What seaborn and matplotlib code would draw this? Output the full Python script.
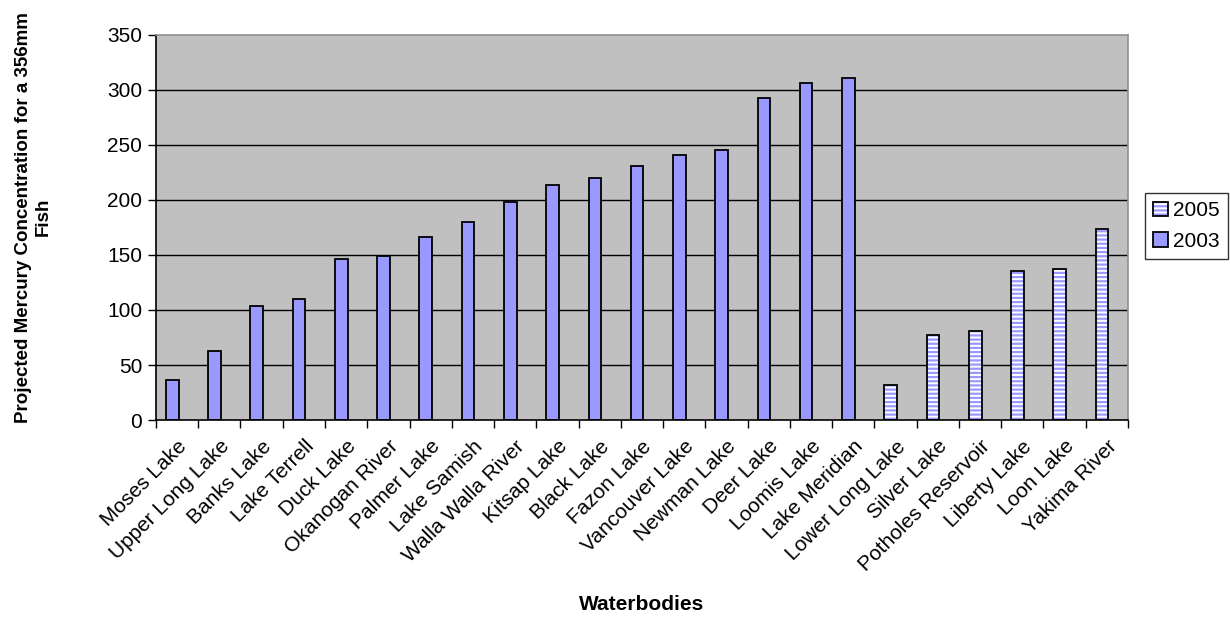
import numpy as np
import pandas as pd
import matplotlib
matplotlib.use("Agg")
import matplotlib.pyplot as plt
from matplotlib.legend_handler import HandlerTuple
import seaborn as sns

# Waterbodies sampled in 2003 and 2005
names_2003 = ["Moses Lake", "Upper Long Lake", "Banks Lake", "Lake Terrell", "Duck Lake",
              "Okanogan River", "Palmer Lake", "Lake Samish", "Walla Walla River",
              "Kitsap Lake", "Black Lake", "Fazon Lake", "Vancouver Lake", "Newman Lake",
              "Deer Lake", "Loomis Lake", "Lake Meridian"]
vals_2003 = [36, 63, 104, 110, 146, 149, 166, 180, 198, 214, 220, 231, 241, 245, 293, 306, 311]

names_2005 = ["Lower Long Lake", "Silver Lake", "Potholes Reservoir", "Liberty Lake",
              "Loon Lake", "Yakima River"]
vals_2005 = [32, 77, 81, 135, 137, 174]

year_levels = ["2005", "2003"]
y_ticks = [0, 50, 100, 150, 200, 250, 300, 350]

df = pd.DataFrame({
    "Waterbody": names_2003 + names_2005,
    "Value": vals_2003 + vals_2005,
    "Year": ["2003"] * len(names_2003) + ["2005"] * len(names_2005),
})
order = names_2003 + names_2005
df_2005 = df[df["Year"] == "2005"]

sns.set_theme(style="white")
plt.rcParams["font.family"] = ["Liberation Sans", "DejaVu Sans"]
plt.rcParams["hatch.linewidth"] = 1.6
for key in ["text.color", "axes.labelcolor", "xtick.color", "ytick.color"]:
    plt.rcParams[key] = "black"

PURPLE = "#9999FF"
FS = 15

fig = plt.figure(figsize=(12.3, 6.24), dpi=100)
ax = fig.add_axes([0.1268, 0.3269, 0.917 - 0.1268, 0.944 - 0.3269])
ax.set_facecolor("#C0C0C0")

# Filled bars: 2003 solid purple, 2005 white with purple horizontal stripes
sns.barplot(data=df, x="Waterbody", y="Value", hue="Year", order=order,
            hue_order=year_levels, dodge=False, width=0.3,
            palette={"2005": "white", "2003": PURPLE},
            edgecolor="black", linewidth=1.3, saturation=1, legend=False, ax=ax)
cont_2005, cont_2003 = ax.containers[0], ax.containers[1]
for p in cont_2005.patches:
    p.set_edgecolor(PURPLE)
    p.set_hatch("----")
    p.set_linewidth(0)

# Black outline on top of the striped 2005 bars
sns.barplot(data=df_2005, x="Waterbody", y="Value", order=order, width=0.3,
            fill=False, color="black", linewidth=1.3, ax=ax)
cont_outline = ax.containers[2]

# Bars sit left of the category centre, Excel-style clustered slot
shift = -0.114
for cont in ax.containers:
    for p in cont.patches:
        p.set_x(p.get_x() + shift)

ax.set_xlim(-0.5, len(order) - 0.5)
ax.set_ylim(0, 350)
ax.set_yticks(y_ticks)
ax.set_yticklabels([str(t) for t in y_ticks], fontsize=FS)

ax.yaxis.grid(True, color="black", linewidth=1.0)
ax.set_axisbelow(True)
gl = ax.get_ygridlines()
gl[0].set_visible(False)
gl[-1].set_visible(False)

ax.set_xticks(np.arange(len(order)))
ax.set_xticklabels(order, rotation=45, ha="right", rotation_mode="anchor", fontsize=FS)
ax.set_xticks(np.arange(len(order) + 1) - 0.5, minor=True)
ax.tick_params(axis="x", which="major", length=0, pad=12)
ax.tick_params(axis="x", which="minor", length=6, width=1, color="black", direction="out", bottom=True)
ax.tick_params(axis="y", length=6, width=1, color="black", direction="out", left=True, pad=4)

for side in ["left", "bottom"]:
    ax.spines[side].set_color("black")
    ax.spines[side].set_linewidth(1.2)
for side in ["top", "right"]:
    ax.spines[side].set_color("#909090")
    ax.spines[side].set_linewidth(1.2)

ax.set_xlabel("Waterbodies", fontsize=FS, fontweight="bold")
ax.set_ylabel("Projected Mercury Concentration for a 356mm\nFish", fontsize=13.5,
              fontweight="bold")
ax.xaxis.set_label_coords(0.5, -0.455)
ax.yaxis.set_label_coords(-0.107, 0.527)

handles = [(cont_2005.patches[0], cont_outline.patches[0]), cont_2003.patches[0]]
leg = fig.legend(handles, year_levels, loc="upper left",
                 bbox_to_anchor=(1145 / 1230, 1 - 193 / 624),
                 handler_map={tuple: HandlerTuple(ndivide=1)},
                 fontsize=FS, frameon=True, fancybox=False, edgecolor="black",
                 handlelength=0.7, handleheight=0.7, handletextpad=0.25,
                 borderpad=0.4, labelspacing=0.55, borderaxespad=0)
leg.get_frame().set_linewidth(1.0)

fig.savefig("out.png", dpi=100)
